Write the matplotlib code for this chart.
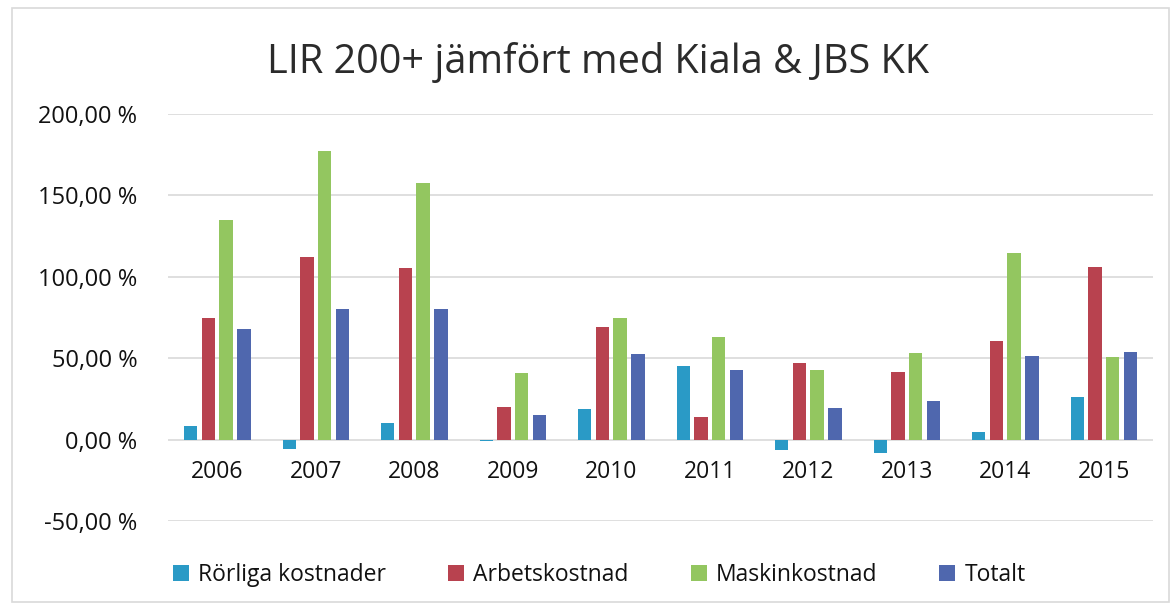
import matplotlib
matplotlib.use("Agg")
import matplotlib.pyplot as plt
import numpy as np
from matplotlib.patches import Rectangle

years = ["2006", "2007", "2008", "2009", "2010", "2011", "2012", "2013", "2014", "2015"]
rorliga = [8.3, -6.0, 10.0, -1.0, 18.5, 45.0, -6.5, -8.0, 4.6, 26.0]
arbets = [75.0, 112.0, 105.7, 20.3, 69.0, 14.0, 47.0, 41.5, 60.4, 106.0]
maskin = [135.0, 177.5, 157.5, 40.8, 75.0, 63.0, 43.0, 53.4, 114.7, 50.5]
totalt = [68.0, 80.0, 80.0, 15.0, 52.5, 42.5, 19.3, 23.5, 51.5, 54.0]
series_names = ["Rörliga kostnader", "Arbetskostnad", "Maskinkostnad", "Totalt"]
yticks = [-50, 0, 50, 100, 150, 200]

colors = ["#2a9ac6", "#b8424f", "#93c660", "#4f67ae"]

plt.rcParams["font.family"] = ["Open Sans", "DejaVu Sans"]

fig = plt.figure(figsize=(11.75, 6.09), dpi=100)
ax = fig.add_axes([0.143, 0.1445, 0.8383, 0.6683])

x = np.arange(len(years))
pitch = 0.18
width = 0.135
for i, (vals, name) in enumerate(zip([rorliga, arbets, maskin, totalt], series_names)):
    ax.bar(x + (i - 1.5) * pitch, vals, width, color=colors[i], label=name, zorder=3)

ax.set_xlim(-0.5, len(years) - 0.5)
ax.set_ylim(-50, 200)
ax.spines["bottom"].set_position(("data", 0))
for s in ax.spines.values():
    s.set_visible(False)

ax.set_yticks(yticks)
ax.set_yticklabels([f"{v:.2f}".replace(".", ",") + " %" for v in yticks])
ax.yaxis.grid(True, color="#d9d9d9", linewidth=1.2, zorder=0)
ax.tick_params(axis="y", length=0, pad=22, labelsize=17, labelcolor="#111111")

ax.set_xticks(x)
ax.set_xticklabels(years)
ax.tick_params(axis="x", length=0, pad=15, labelsize=16.5, labelcolor="#111111")

fig.text(0.509, 0.898, "LIR 200+ jämfört med Kiala & JBS KK", ha="center", va="center",
         fontsize=28.5, color="#2b2b2b")

fig.legend(loc="center", bbox_to_anchor=(0.51, 1 - 575 / 609), ncol=4, frameon=False,
           fontsize=16.5, handlelength=0.7, handleheight=0.7, handletextpad=0.4,
           columnspacing=2.7, labelcolor="#111111")

fig.add_artist(Rectangle((0.01, 0.012), 0.985, 0.975, transform=fig.transFigure,
                         fill=False, edgecolor="#d9d9d9", linewidth=1.2))

fig.savefig("out.png", dpi=100)
